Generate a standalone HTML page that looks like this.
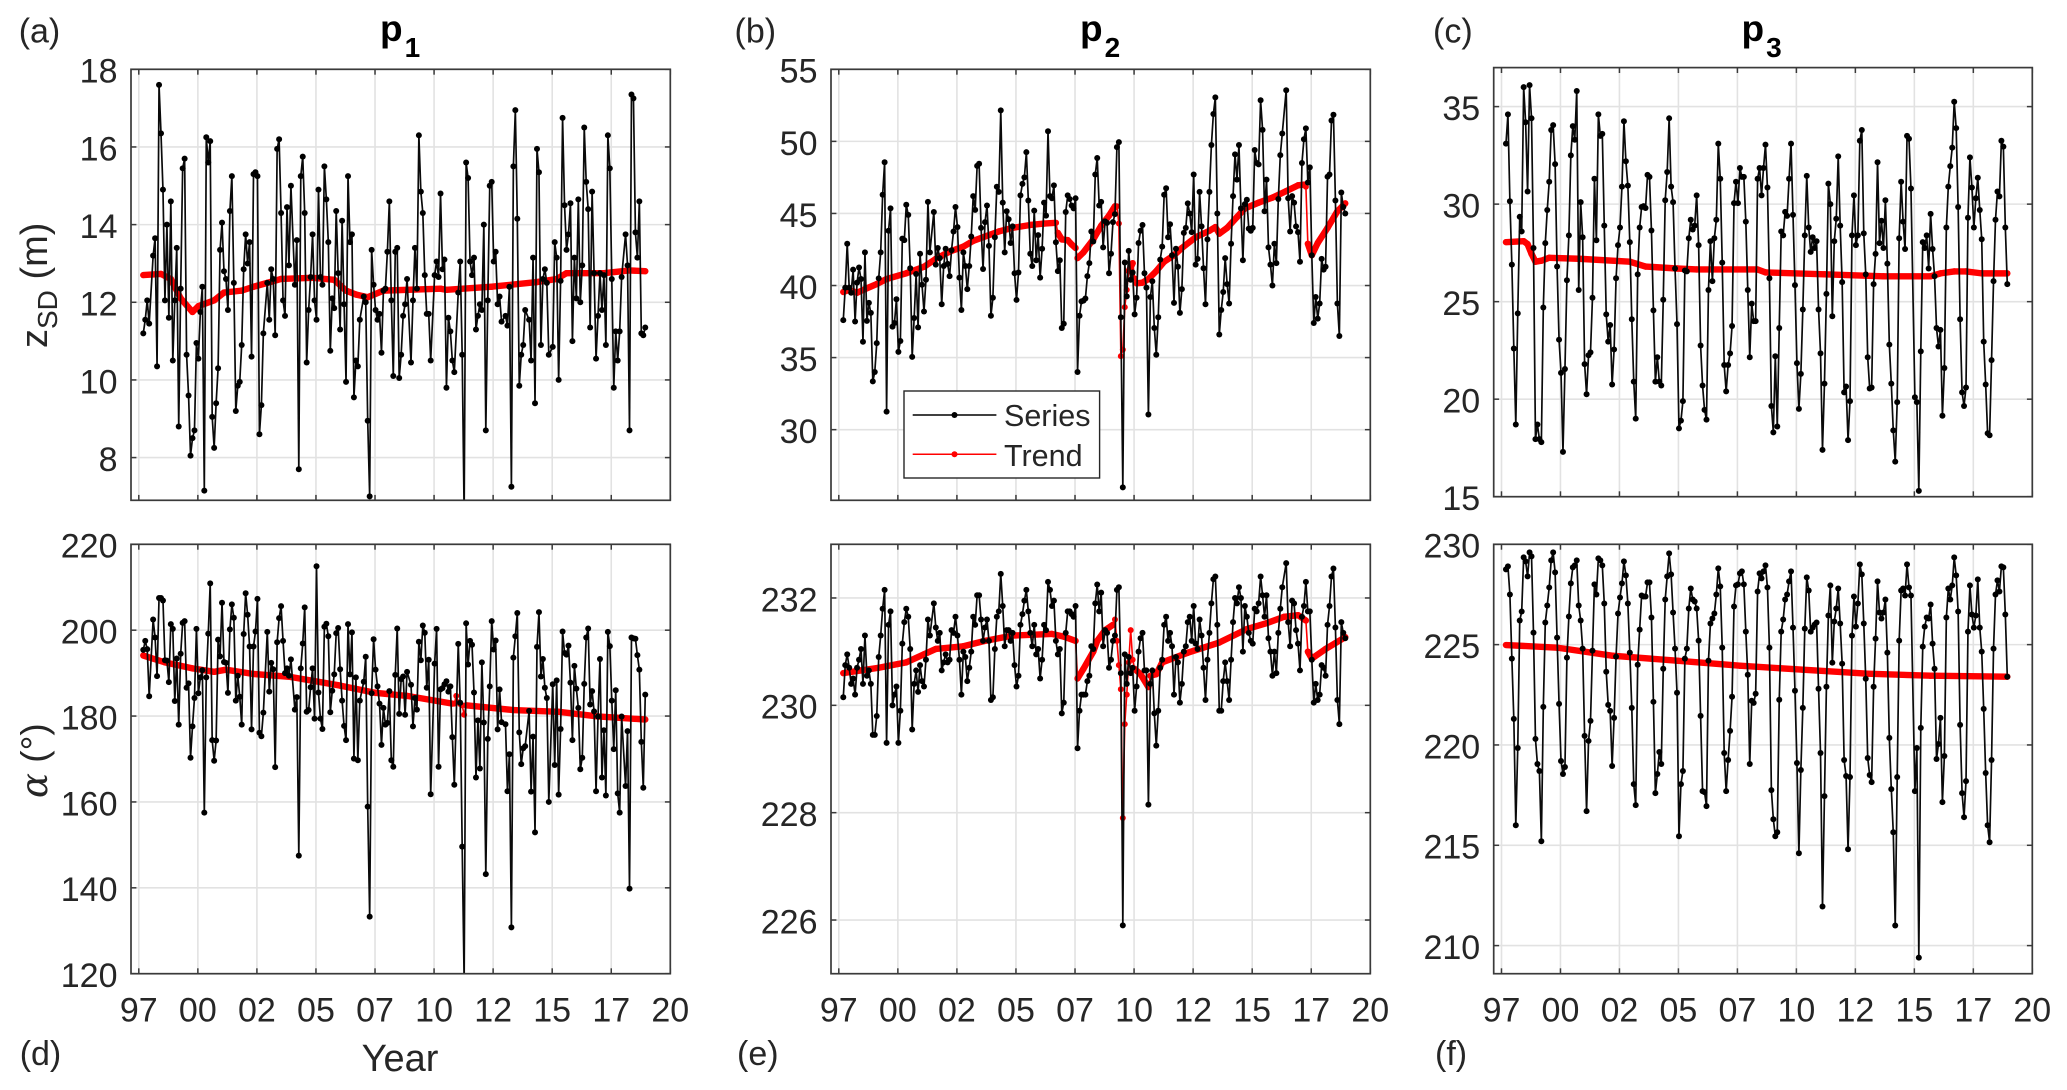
<!DOCTYPE html>
<html lang="en">
<head>
<meta charset="utf-8">
<title>Time series and trend of zSD and alpha at p1, p2, p3</title>
<style>
html,body{margin:0;padding:0;background:#fff;}
#figure{display:block;width:2067px;height:1090px;background:#fff;font-family:"Liberation Sans",Arial,sans-serif;}
text{font-family:"Liberation Sans",Arial,sans-serif;fill:#262626;}
</style>
</head>
<body>
<svg id="figure" xmlns="http://www.w3.org/2000/svg" width="2067" height="1090" viewBox="0 0 2067 1090">
  <g id="plots"></g>

  <g font-size="34">
    <text x="18.7" y="42.3">(a)</text>
    <text x="734.5" y="42.3">(b)</text>
    <text x="1433" y="42.3">(c)</text>
    <text x="19.7" y="1065">(d)</text>
    <text x="737" y="1065">(e)</text>
    <text x="1435" y="1065">(f)</text>
  </g>

  <g font-weight="bold" font-size="37">
    <text x="380" y="41" style="fill:#000">p<tspan font-size="28" dy="16" dx="2">1</tspan></text>
    <text x="1080" y="41" style="fill:#000">p<tspan font-size="28" dy="16" dx="2">2</tspan></text>
    <text x="1741.5" y="41" style="fill:#000">p<tspan font-size="28" dy="16" dx="2">3</tspan></text>
  </g>

  <text transform="translate(47,348) rotate(-90)" font-size="38">z<tspan font-size="28" dy="10">SD</tspan><tspan dy="-10"> (m)</tspan></text>
  <text transform="translate(47,798) rotate(-90)" font-size="37"><tspan font-family="'DejaVu Serif',serif" font-style="italic">α</tspan> (°)</text>
  <text x="400" y="1071" text-anchor="middle" font-size="38">Year</text>

  <g>
    <rect x="904" y="391" width="195.6" height="87" fill="#fff" stroke="#262626" stroke-width="1.4"/>
    <g>
      <line x1="912.7" y1="415" x2="996.4" y2="415" stroke="#000" stroke-width="1.5"/>
      <circle cx="954.5" cy="415" r="3" fill="#000"/>
      <text x="1004" y="426" font-size="30.5">Series</text>
    </g>
    <g>
      <line x1="912.7" y1="454.3" x2="996.4" y2="454.3" stroke="#ff0000" stroke-width="1.5"/>
      <circle cx="954.5" cy="454.3" r="3" fill="#ff0000"/>
      <text x="1004" y="466" font-size="30.5">Trend</text>
    </g>
  </g>
</svg>
<script>
const xTickYears = [1997,1999.5,2002,2004.5,2007,2009.5,2012,2014.5,2017,2019.5];
const xTickLabels = ['97','00','02','05','07','10','12','15','17','20'];
const xLimits = [1996.67,2019.5];
const firstYear = 1997.19;

const yTicksA = [8,10,12,14,16,18];
const yLimitsA = [6.9,18];
const seriesA = [
11.2,11.55,12.05,11.45,null,13.2,13.65,10.35,17.6,16.35,
14.9,12.05,14,11.6,14.6,10.5,12.05,13.4,8.8,12.35,
15.45,15.7,10.65,9.6,8.05,8.5,8.7,10.95,10.55,11.75,
12.4,7.15,16.25,15.6,16.15,9.05,8.25,9.4,10.3,13.35,
14.05,12.8,12.6,11.8,14.35,15.25,12.5,9.2,9.85,9.95,
10.9,12.85,13.75,13.0,13.55,10.6,15.3,15.35,15.25,8.6,
9.35,11.2,null,12.5,11.55,12.85,12.6,11.15,15.95,16.2,
14.3,12.05,11.65,14.45,12.95,15.0,null,12.45,13.6,7.7,
15.25,15.75,14.3,10.45,11.8,12.65,13.75,12.05,11.55,14.9,
12.65,12.45,15.5,14.65,13.55,10.75,12.1,11.85,14.35,12.75,
11.3,14.1,11.95,9.95,15.25,13.55,13.75,9.55,10.5,10.35,
11.55,null,12.15,12.0,8.95,7.0,13.35,12.45,11.8,11.55,
11.7,10.7,12.3,12.35,13.3,14.6,12.05,10.1,13.3,13.4,
10.05,10.65,11.65,11.95,12.6,null,10.45,12.05,13.4,12.35,
16.3,14.85,14.3,12.7,11.7,11.7,10.5,null,12.7,13.05,
12.65,14.8,12.85,13.1,9.8,11.6,11.25,10.5,10.2,null,
12.25,13.05,10.65,6.5,15.6,15.2,13.05,12.7,13.15,11.3,
11.65,11.95,11.8,14,8.7,12.05,15,15.1,13.05,13.3,
11.95,12.15,11.5,null,11.65,11.4,12.4,7.25,15.5,16.95,
14.15,9.85,10.65,10.9,11.8,null,11.55,10.5,13.15,9.4,
15.95,15.35,10.9,12.6,12.85,12.5,10.65,null,10.85,13.55,
13.15,10.0,12.55,16.75,14.5,13.35,13.75,14.55,11.0,13.15,
12.1,14.65,12.0,12.95,16.5,15.1,14.4,11.35,14.85,12.75,
10.55,11.65,12.75,11.8,12.7,10.9,16.3,15.45,12.6,9.8,
11.25,10.5,11.25,12.65,null,13.75,12.95,8.7,17.35,17.25,
13.8,13.15,14.6,11.2,11.15,11.35];
const trendMonthsA = [0,9,14,19,25,28,36,41,50,56,63,70,86,97,103,108,114,122,151,154,177,200,210,215,234,247,255];
const trendValuesA = [12.7,12.73,12.6,12.1,11.75,11.9,12.05,12.25,12.3,12.4,12.5,12.6,12.63,12.58,12.3,12.2,12.13,12.3,12.35,12.32,12.4,12.52,12.6,12.75,12.75,12.82,12.8];

const yTicksB = [30,35,40,45,50,55];
const yLimitsB = [25.1,55];
const seriesB = [
37.6,39.85,42.9,39.85,39.5,41.1,37.5,40.2,41.25,40.45,
36.1,42.3,37.55,38.8,38.1,33.35,34,36,40.5,42.3,
46.3,48.55,31.25,43.8,45.35,37.15,37.4,39.05,35.4,36.15,
43.25,43.15,45.6,44.9,41.2,35.05,37.75,40.8,37.1,42.2,
40.05,38.2,40.4,45.8,42.3,null,45.1,41.45,42.6,41.9,
38.7,41.35,42.55,41.5,40.65,42.45,43.75,45.45,44.05,40.55,
38.3,42.3,41.35,39.75,41.35,43.4,46.2,45.25,48.3,48.45,
44,41.15,44.4,45.55,42.75,37.9,39.15,43.35,46.85,46.5,
52.15,45.75,42.3,45.15,44.6,42.95,44.1,40.85,39,40.9,
46.25,47.05,47.5,49.25,45.9,42.2,41.35,45.2,41.75,43.5,
40.55,42.55,45.75,44.85,50.7,46.2,46.05,46.95,43,41,
41.75,37.05,37.35,45.1,46.25,46,45.55,45.35,46.05,34,
37.9,38.9,38.95,39.1,40.65,41.55,43.75,43.05,47.7,48.85,
45.55,45.8,42.65,44.45,44.35,40.85,42.2,44.4,44.95,49.6,
49.95,37.8,26,41.6,39.25,42.4,40.4,40.9,38,39.15,
42.95,43.8,44.2,40.85,39.85,31.05,39.2,40.3,37.05,35.2,
37.8,41.8,42.7,46.3,46.75,43.35,44.25,42.1,38.8,42.55,
41.3,38.1,39.75,43.65,44,45.7,45,43.7,47.7,41.45,
41.85,46.5,44.1,41.2,38.7,43.2,46.5,49.75,51.9,53.05,
45,36.6,38.3,39.55,41.9,40.1,38.75,42.9,46.2,49.1,
47.35,49.75,45.35,41.75,45.65,45.95,43.95,43.8,44,49.4,
48.5,48.4,52.85,50.8,45.15,47.35,42.65,41.45,40,42.9,
41.55,46,49.05,50.55,null,53.55,46.05,43.75,46.2,45.75,
44.1,43.7,41.65,48.5,50.15,50.9,47.15,48.2,42.1,37.4,
39.2,37.7,38.75,41.85,41.1,41.3,47.55,47.7,51.45,51.85,
45.9,38.75,36.5,46.45,45.45,45];
const trendMonthsB = [0,3,7,11,17,22,32,41,47,54,61,66,72,79,86,95,102,108,109,111,114,116,118,119,122,127,131,135,138,139,140,141,142,143,144,145,147,148,149,152,155,159,163,168,172,179,186,189,191,195,200,204,211,218,225,231,234,235,236,238,241,246,251,255];
const trendValuesB = [39.55,39.7,39.5,39.75,40.1,40.45,40.85,41.3,41.85,42.35,42.7,43.1,43.4,43.75,44,44.2,44.3,44.35,43.65,43.2,43.15,42.85,42.6,41.9,42.3,43.2,44.15,44.85,45.5,45.5,44.3,35.1,35.55,38.5,39.7,41,41.55,40.5,40.15,40.2,40.45,41,41.65,42.1,42.6,43.35,43.8,44.05,43.6,44,44.75,45.35,45.75,46.1,46.55,46.95,47,46.85,42.9,42.1,42.95,44,45.15,45.7];

const yTicksC = [15,20,25,30,35];
const yLimitsC = [15,37];
const seriesC = [
33.1,34.6,30.15,26.9,22.6,18.7,24.4,29.35,28.6,36,
34.2,30.65,36.1,34.4,27.75,17.95,18.7,17.95,17.8,24.7,
28,29.7,31.15,33.8,34.05,32.05,26.8,23.05,21.35,17.3,
21.55,26.1,28.4,32.5,34,33.3,35.8,25.6,30.1,28.3,
21.8,20.25,22.25,22.4,25.2,31.3,28.15,34.6,33.5,33.6,
28.9,24.35,22.95,23.8,20.75,22.55,26.2,27.9,28.8,30.9,
34.25,32.2,30.95,28.05,24.1,20.9,19,26.4,28.8,29.85,
29.9,29.8,31.5,31.4,28.65,24.55,20.9,22.15,20.9,20.7,
25.1,30.2,31.65,34.4,30.9,30.1,26.7,23.85,18.5,18.9,
19.9,26.6,26.55,28.25,29.2,28.7,28.9,30.45,27.9,22.75,
20.7,19.45,18.95,25.6,28.1,26.05,28.25,29.2,33.1,31.3,
27,21.75,20.4,21.75,22.35,23.75,30.05,31.15,30.05,31.85,
31.4,31.4,29.1,25.6,22.15,24.9,24,24,31.3,31.85,
30.45,31.85,33.05,30.85,26.2,19.65,18.3,22.2,18.6,23.65,
28.6,28.4,29.6,29.4,31.3,33.1,29.45,25.85,21.85,19.5,
21.3,24.6,28.4,31.45,28.8,27.55,28.3,27.75,28.1,24.6,
22.35,17.4,20.8,25.4,31.05,30,24.25,28.1,29.25,32.45,
28.9,26,20.35,20.65,17.9,19.9,28.4,30.45,27.9,28.4,
33.25,33.8,28.5,26.4,22.15,20.55,20.6,25.9,27.45,32.15,
28,29.15,27.75,30.2,26.95,22.8,20.8,18.4,16.8,19.85,
28.25,31.15,29.1,27.7,33.5,33.35,30.8,null,20.1,19.85,
15.3,22.45,28.05,27.75,28.4,26.7,29.5,27.7,26.3,23.65,
22.7,23.55,19.15,21.6,28.8,30.9,31.95,32.9,35.25,33.9,
29.85,24.1,20.35,19.65,20.6,29.3,32.4,30.85,28.8,30.3,
31.35,29.7,28.2,22.95,20.75,18.25,18.15,22,26.05,29.2,
30.65,30.4,33.25,32.95,28.8,25.9];
const trendMonthsC = [0,9,11,13,15,18,22,37,63,71,87,97,128,132,162,192,216,221,228,234,242,255];
const trendValuesC = [28.05,28.1,27.95,27.45,27.05,27.1,27.25,27.2,27.05,26.8,26.7,26.65,26.65,26.5,26.4,26.3,26.3,26.45,26.55,26.55,26.45,26.45];

const yTicksD = [120,140,160,180,200,220];
const yLimitsD = [120,220];
const seriesD = [
195.4,197.5,195.6,184.6,null,202.5,198.3,189.3,207.5,207.5,
206.9,193,192.9,187.9,201.4,200.3,183.5,193.4,178,194.5,
201.7,202.1,186.6,187.6,170.3,177.6,184.2,200.3,185.3,189,
190.7,157.5,189,199.2,210.9,174.4,169.6,174.3,197.8,193.9,
206.4,192.6,192.4,185.4,200.2,206,202.9,183.6,189.4,184.5,
178,199.1,208.6,203.6,196.2,176.9,196.2,199.7,207.3,176.1,
175.3,180.8,null,199.6,185.7,192.4,190.9,168.1,197.2,202.8,
205.6,197.5,190,191.1,189.4,193.2,null,181.5,184.4,147.5,
191.1,196.9,205.3,181,181.4,186.7,191.1,179.4,214.9,185.5,
179.4,177,200.8,201.5,198.6,180.9,185.9,189.7,199.3,200.5,
190.9,183.6,177.7,174.4,201.4,189.7,199.5,170.1,189,169.7,
183.6,null,188,193.8,158.9,133.3,185.3,197.9,190.8,186.9,
182.9,173.3,181.9,178,178.4,185.8,169.7,168.2,189.6,200.4,
180.5,188.6,189.2,180.3,190.3,null,187.3,177.6,184.2,181.5,
197.3,193,201.1,199.4,186.6,193.1,161.8,null,192.2,200.3,
168.2,186.2,186.5,187.4,188.1,185.7,186.9,175.1,164,null,
196.8,183.1,149.6,118,201.6,192,197.5,196.6,185.5,165.7,
179,167.8,192.5,178.5,143.2,174.7,186.9,202.1,195.5,197.6,
176.9,186.2,178.6,null,178.1,162.5,171.1,130.8,193.6,198.6,
204,176.2,168.8,172.5,173,null,181.2,162.4,175.2,152.9,
196.1,204.2,189.2,193.3,186.6,184.2,160,null,187.4,168.6,
188.3,161.7,177,199.7,194.7,194.3,196.4,187.8,174.4,191.7,
186.4,181.9,167.6,170.3,187.5,198.3,200.4,182.7,185.8,181.1,
162.5,179.9,193.3,165.7,176.7,161.5,199.6,196.3,183.6,172.3,
186,162,157.5,179.9,null,163.7,176.5,139.8,198.3,198.1,
198,194.2,190.8,174,163.3,185];
const trendMonthsD = [0,11,25,36,42,56,75,100,118,134,157,158,159,160,161,162,163,164,188,211,231,255];
const trendValuesD = [194.1,192.5,191.1,190.3,190.8,189.8,189.1,187.1,185.4,184.7,182.9,182.9,184.7,183.2,182.8,182.5,180.3,182.5,181.4,181,179.9,179.2];

const yTicksE = [226,228,230,232];
const yLimitsE = [225,233];
const seriesE = [
230.15,230.75,230.95,230.7,230.4,230.5,230.2,230.7,230.85,231.05,
230.4,231.3,230.55,230.65,230.4,229.45,229.45,229.8,230.9,231.3,
231.8,232.15,229.3,231.5,231.75,230,230.2,230.35,229.3,229.9,
231.15,231.55,231.8,231.65,231.05,229.55,230.4,230.65,230.25,230.75,
230.45,230.35,230.85,231.6,231.3,null,231.9,231.45,231.2,231.35,
230.65,230.8,230.95,230.8,230.85,231.4,231.35,231.65,231.3,230.85,
230.2,231,230.9,230.45,230.7,231,231.65,231.5,232.05,232.05,
231.6,231.2,231.45,231.6,231.2,230.1,230.15,231.05,231.65,231.75,
232.45,231.85,231.1,231.4,231.4,231.2,231.35,230.75,230.35,230.55,
231.5,231.7,231.95,232.15,231.75,231.35,231.1,231.5,230.95,231.05,
230.5,230.85,231.5,231.4,232.3,232.15,231.85,231.95,231.2,230.95,
231.05,229.85,230.05,231.35,231.75,231.75,231.7,231.65,231.85,229.2,
229.9,230.2,230.2,230.2,230.45,230.55,231.1,231.05,231.9,232.25,
231.75,232.1,231.1,231.4,231.35,230.7,230.85,231.2,231.3,232.15,
232.2,230.6,225.9,230.95,230.4,230.9,230.6,230.7,229.9,230.35,
231,231.25,231.35,230.65,230.65,228.15,230.4,230.65,229.85,229.25,
229.9,230.7,230.85,231.5,231.65,231.2,231.35,231.1,230.2,230.9,
230.8,230.05,230.4,231,231.1,231.55,231.65,231.2,231.85,231.15,
231.05,231.6,231.3,230.7,230.1,230.85,231.35,231.9,232.35,232.4,
231.5,229.9,229.9,230.45,230.8,230.45,230.1,230.85,231.55,232,
231.9,232.2,232,231,231.85,231.65,231.35,231.2,231.15,231.8,
231.75,231.9,232.4,232.05,231.65,232.05,231.25,231,230.55,231,
230.6,231.35,231.8,232.2,null,232.65,231.55,231.1,231.95,231.9,
231.4,231.15,230.65,231.65,231.85,232.3,231.75,231.75,230.85,230.05,
230.4,230.1,230.2,230.75,230.7,230.55,231.5,231.85,232.4,232.55,
231.45,230.1,229.65,231.55,231.35,231.25];
const trendMonthsE = [0,9,18,32,41,47,61,72,86,106,112,118,119,122,127,129,133,137,138,139,140,141,142,143,144,145,146,147,148,151,155,156,159,162,175,191,205,215,224,231,235,236,238,245,255];
const trendValuesE = [230.6,230.65,230.7,230.8,230.95,231.05,231.1,231.2,231.3,231.33,231.28,231.2,230.5,230.68,231,231.2,231.4,231.5,231.6,231.2,230.75,230.3,227.9,229.65,230.2,230.8,231.4,230.85,230.68,230.58,230.34,230.55,230.58,230.8,230.98,231.17,231.42,231.53,231.65,231.68,231.58,231,230.87,231.05,231.27];

const yTicksF = [210,215,220,225,230];
const yLimitsF = [208.6,230];
const seriesF = [
228.75,228.9,227.5,224.3,221.3,216,219.85,226.2,226.65,229.35,
229.15,228.4,229.6,229.4,225.6,220.3,219.05,218.7,215.2,221.9,
226.1,226.95,227.85,229.2,229.6,228.6,225.35,222.05,219.2,218.55,
218.9,224.35,226.4,228.05,228.85,228.95,229.2,226.95,226.2,224.8,
220.45,216.7,220.2,221.2,224.7,228,227.5,229.3,229.2,228.95,
227.05,223.65,222,221.7,218.95,221.35,224.4,226.55,227.35,228.05,
229.15,228.45,227.05,224.6,221.85,218.05,217,224,225.75,227.45,
227.4,227.4,228.1,228.1,226.35,222.15,217.6,218.55,219.65,219.05,
223.8,227.25,228.4,229.55,228.5,226.6,224.8,222.6,215.45,218.05,
218.7,224.3,224.8,226.8,227.8,227.25,227.15,226.8,225.2,221.45,
217.7,217.65,216.95,224.2,226.05,226.3,226.55,227.5,228.8,227.9,
224.85,219.6,217.7,219.25,220.7,222.4,226.9,227.95,228,228.55,
228.65,228,225.65,223.5,219.05,222.2,222.1,222.55,227.65,228.55,
228.3,228.65,228.95,227.85,224.85,217.75,216.3,215.45,215.65,222.25,
225.65,226.25,227.25,227.5,228.15,228.65,225.85,222.7,219.1,214.6,
218.75,221.85,225.8,228.35,227.7,225.65,225.85,226,226.1,222.8,
219.6,211.95,217.45,222.9,226.45,227.95,224.1,226.15,226.8,227.8,
226.05,224.05,219.25,218.45,214.8,218.4,225.45,227.4,225.9,227.05,
229,228.5,226.05,223.3,219.35,218.5,218.15,222.9,225.3,228.15,
226.6,226.3,226.6,227.25,224.6,220.35,217.8,215.65,211,218.4,
225.2,227.7,227.8,227.45,229,227.85,227.45,null,217.7,219.85,
209.4,220.85,224.9,225.9,226.35,226.3,227,225.05,223.8,219.3,
220.05,221.35,217.15,219.45,226.35,227.8,227.25,227.95,229.35,228.45,
226.65,221,217.6,216.4,218.2,225.65,227.95,226.5,225.85,226.45,
228.25,225.85,224.65,221.8,218.6,216,215.15,219.25,224.8,227.5,
228.2,227.65,228.9,228.85,226.5,223.4];
const trendMonthsF = [0,26,54,87,119,151,184,216,255];
const trendValuesF = [224.98,224.85,224.45,224.2,223.95,223.75,223.55,223.45,223.4];

const SVG_NS = 'http://www.w3.org/2000/svg';
const plotsRoot = document.getElementById('plots');

function svgEl(tag, parent) {
  const el = document.createElementNS(SVG_NS, tag);
  parent.appendChild(el);
  return el;
}
function makeXScale(box) {
  return function (year) {
    return box.left + (year - xLimits[0]) / (xLimits[1] - xLimits[0]) * (box.right - box.left);
  };
}
function makeYScale(box, limits) {
  return function (value) {
    return box.bottom - (value - limits[0]) / (limits[1] - limits[0]) * (box.bottom - box.top);
  };
}
function monthToYear(month) {
  return firstYear + month / 12;
}

function drawPanel(key, box, yTicks, yLimits, series, trendMonths, trendValues, showXLabels) {
  const sx = makeXScale(box);
  const sy = makeYScale(box, yLimits);
  const panel = svgEl('g', plotsRoot);
  
  

  const defs = svgEl('defs', panel);
  const clip = svgEl('clipPath', defs);
  clip.setAttribute('id', 'clip-' + key);
  const clipRect = svgEl('rect', clip);
  clipRect.setAttribute('x', box.left);
  clipRect.setAttribute('y', box.top);
  clipRect.setAttribute('width', box.right - box.left);
  clipRect.setAttribute('height', box.bottom - box.top);

  const grid = svgEl('g', panel);
  
  
  grid.setAttribute('stroke', '#e2e2e2');
  grid.setAttribute('stroke-width', '1.6');
  xTickYears.forEach(function (year) {
    const line = svgEl('line', grid);
    line.setAttribute('x1', sx(year));
    line.setAttribute('x2', sx(year));
    line.setAttribute('y1', box.top);
    line.setAttribute('y2', box.bottom);
  });
  yTicks.forEach(function (value) {
    const line = svgEl('line', grid);
    line.setAttribute('x1', box.left);
    line.setAttribute('x2', box.right);
    line.setAttribute('y1', sy(value));
    line.setAttribute('y2', sy(value));
  });

  const marks = svgEl('g', panel);
  marks.setAttribute('clip-path', 'url(#clip-' + key + ')');

  const trend = svgEl('g', marks);
  
  
  for (let i = 0; i < trendMonths.length - 1; i++) {
    const seg = svgEl('line', trend);
    const gap = trendMonths[i + 1] - trendMonths[i];
    seg.setAttribute('x1', sx(monthToYear(trendMonths[i])));
    seg.setAttribute('y1', sy(trendValues[i]));
    seg.setAttribute('x2', sx(monthToYear(trendMonths[i + 1])));
    seg.setAttribute('y2', sy(trendValues[i + 1]));
    seg.setAttribute('stroke', '#ff0000');
    seg.setAttribute('stroke-linecap', 'round');
    seg.setAttribute('stroke-width', gap > 1 ? '6.4' : '1.6');
  }
  trendMonths.forEach(function (month, i) {
    const dot = svgEl('circle', trend);
    dot.setAttribute('cx', sx(monthToYear(month)));
    dot.setAttribute('cy', sy(trendValues[i]));
    dot.setAttribute('r', '3');
    dot.setAttribute('fill', '#ff0000');
  });

  const seriesGroup = svgEl('g', marks);
  
  
  const pts = [];
  series.forEach(function (value, i) {
    if (value !== null) pts.push([sx(monthToYear(i)), sy(value)]);
  });
  const poly = svgEl('polyline', seriesGroup);
  poly.setAttribute('points', pts.map(function (p) { return p[0].toFixed(2) + ',' + p[1].toFixed(2); }).join(' '));
  poly.setAttribute('fill', 'none');
  poly.setAttribute('stroke', '#0a0a0a');
  poly.setAttribute('stroke-width', '1.7');
  poly.setAttribute('stroke-linejoin', 'round');
  pts.forEach(function (p) {
    const dot = svgEl('circle', seriesGroup);
    dot.setAttribute('cx', p[0]);
    dot.setAttribute('cy', p[1]);
    dot.setAttribute('r', '3');
    dot.setAttribute('fill', '#000');
  });

  const axes = svgEl('g', panel);
  
  
  const frame = svgEl('rect', axes);
  frame.setAttribute('x', box.left);
  frame.setAttribute('y', box.top);
  frame.setAttribute('width', box.right - box.left);
  frame.setAttribute('height', box.bottom - box.top);
  frame.setAttribute('fill', 'none');
  frame.setAttribute('stroke', '#3a3a3a');
  frame.setAttribute('stroke-width', '1.7');

  const tickLen = 5.4;
  xTickYears.forEach(function (year, i) {
    [[box.bottom, box.bottom - tickLen], [box.top, box.top + tickLen]].forEach(function (ends) {
      const t = svgEl('line', axes);
      t.setAttribute('x1', sx(year));
      t.setAttribute('x2', sx(year));
      t.setAttribute('y1', ends[0]);
      t.setAttribute('y2', ends[1]);
      t.setAttribute('stroke', '#3a3a3a');
      t.setAttribute('stroke-width', '1.5');
    });
    if (showXLabels) {
      const label = svgEl('text', axes);
      label.setAttribute('x', sx(year));
      label.setAttribute('y', 1021.7);
      label.setAttribute('text-anchor', 'middle');
      label.setAttribute('font-size', '34');
      
      
      label.textContent = xTickLabels[i];
    }
  });
  yTicks.forEach(function (value) {
    [[box.left, box.left + tickLen], [box.right, box.right - tickLen]].forEach(function (ends) {
      const t = svgEl('line', axes);
      t.setAttribute('x1', ends[0]);
      t.setAttribute('x2', ends[1]);
      t.setAttribute('y1', sy(value));
      t.setAttribute('y2', sy(value));
      t.setAttribute('stroke', '#3a3a3a');
      t.setAttribute('stroke-width', '1.5');
    });
    const label = svgEl('text', axes);
    label.setAttribute('x', box.left - 13.5);
    label.setAttribute('y', sy(value) + 13.4);
    label.setAttribute('text-anchor', 'end');
    label.setAttribute('font-size', '34');
    
    
    label.textContent = String(value);
  });
}

drawPanel('a', {left:131, right:670.3, top:69.3, bottom:500.3}, yTicksA, yLimitsA, seriesA, trendMonthsA, trendValuesA, false);
drawPanel('b', {left:831, right:1370.3, top:69.3, bottom:500.3}, yTicksB, yLimitsB, seriesB, trendMonthsB, trendValuesB, false);
drawPanel('c', {left:1493.7, right:2032.3, top:67.6, bottom:496.7}, yTicksC, yLimitsC, seriesC, trendMonthsC, trendValuesC, false);
drawPanel('d', {left:131, right:670.3, top:544.3, bottom:973.7}, yTicksD, yLimitsD, seriesD, trendMonthsD, trendValuesD, true);
drawPanel('e', {left:831, right:1370.3, top:544.3, bottom:973.7}, yTicksE, yLimitsE, seriesE, trendMonthsE, trendValuesE, true);
drawPanel('f', {left:1493.7, right:2032.3, top:544.3, bottom:973.7}, yTicksF, yLimitsF, seriesF, trendMonthsF, trendValuesF, true);
</script>
</body>
</html>
